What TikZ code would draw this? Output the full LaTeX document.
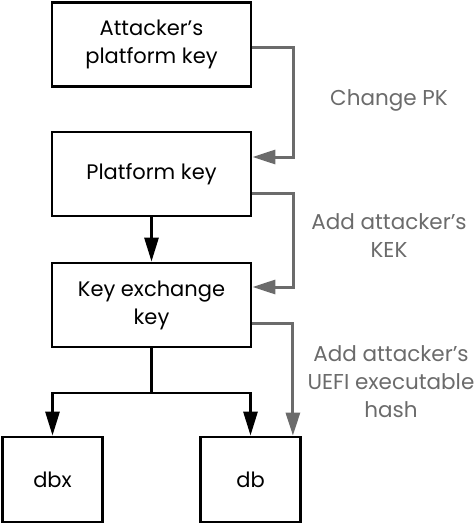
\documentclass[tikz,border=0pt]{standalone}
\usepackage{fontspec}
\setmainfont{Poppins}
\usepackage{xcolor}
\usepackage{tikz}
\usetikzlibrary{arrows.meta}
\usetikzlibrary{calc,positioning}

\definecolor{editgray}{gray}{0.42}

\tikzset{
    keybox/.style={draw, line width=2.8pt, minimum width=199pt, minimum height=84pt,
        align=center, font=\fontsize{21}{28}\selectfont, inner sep=0pt},
    dbbox/.style={keybox, minimum width=100pt, minimum height=85pt},
    flow/.style={line width=2.8pt, -{Triangle[length=24pt,width=14pt]}},
    keyedit/.style={line width=3pt, editgray, -{Triangle[length=23pt,width=14pt]}},
    editlabel/.style={text=editgray, align=center, font=\fontsize{21.5}{28}\selectfont}
}

\begin{document}
\begin{tikzpicture}[x=1pt,y=-1pt]

    \useasboundingbox (0,0) rectangle (475,524);

    % Boxes
    \node[keybox] (apk) at (151.5,44.5) {Attacker's\\platform key};
    \node[keybox] (pk) at (151.5,174) {Platform key};
    \node[keybox] (kek) at (151.5,305) {Key exchange\\key};
    \node[dbbox] (dbx) at (52.5,479.5) {dbx};
    \node[dbbox] (db) at (250.5,479.5) {db};

    % Hierarchy
    \coordinate (split) at (151.5,393);
    \draw[flow] (pk.south) -- (kek.north);
    \draw[line width=2.8pt] (kek.south) -- (split);
    \draw[flow] (split) -| (dbx.north);
    \draw[flow] (split) -| (db.north);

    % Attack
    \draw[keyedit] ([yshift=-3pt]apk.east) -- ++(41,0) |- ([yshift=17pt]pk.east);
    \draw[keyedit] ([yshift=-19pt]pk.east) -- ++(41,0) |- ([yshift=18pt]kek.east);
    \draw[keyedit] ([yshift=-18pt]kek.east) -| ([xshift=-9pt]db.north east);

    \node[editlabel] (changepk) at (389,100) {Change PK};
    \node[editlabel] (addkek) at (389,236) {Add attacker's\\KEK};
    \node[editlabel] (addhash) at (391,382) {Add attacker's\\UEFI executable\\hash};

\end{tikzpicture}
\end{document}
